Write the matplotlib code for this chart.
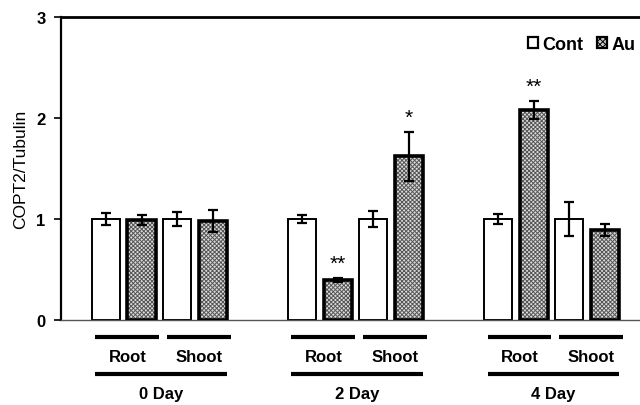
import matplotlib
matplotlib.use("Agg")
import matplotlib.pyplot as plt
from matplotlib.patches import Patch
import numpy as np

plt.rcParams['font.family'] = ['Liberation Sans', 'DejaVu Sans']
plt.rcParams['hatch.linewidth'] = 0.7

days = ["0 Day", "2 Day", "4 Day"]
tissues = ["Root", "Shoot"]
cont_vals = [1.00, 1.00, 1.00, 1.00, 1.00, 1.00]
cont_err = [0.06, 0.07, 0.04, 0.08, 0.05, 0.17]
au_vals = [0.99, 0.98, 0.40, 1.62, 2.08, 0.89]
au_err = [0.05, 0.11, 0.02, 0.24, 0.09, 0.06]
au_sig = ["", "", "**", "*", "**", ""]
yticks = [0, 1, 2, 3]

fig = plt.figure(figsize=(6.4, 4.06), dpi=100)
ax = fig.add_axes([61/640, 85/406, 579/640, 303/406])

group_step = 5.5
cont_x = []
au_x = []
for g in range(len(days)):
    for t in range(len(tissues)):
        base = g * group_step + 2 * t
        cont_x.append(base)
        au_x.append(base + 1)
cont_x = np.array(cont_x)
au_x = np.array(au_x)
w = 0.79

ax.bar(cont_x, cont_vals, w, color='white', edgecolor='black', linewidth=1.4, zorder=2)
ax.errorbar(cont_x, cont_vals, yerr=cont_err, fmt='none', ecolor='black',
            elinewidth=1.6, capsize=3.5, capthick=1.6, zorder=4)
ax.bar(au_x, au_vals, w, color='#dcdcdc', edgecolor='#555555', hatch='xxxxxxxx',
       linewidth=0, zorder=2)
ax.bar(au_x, au_vals, w, color='none', edgecolor='black', linewidth=2.6, zorder=3)
ax.errorbar(au_x, au_vals, yerr=au_err, fmt='none', ecolor='black',
            elinewidth=1.6, capsize=3.5, capthick=1.6, zorder=4)

for x, v, e, s in zip(au_x, au_vals, au_err, au_sig):
    if s:
        ax.text(x, v + e + 0.05, s, ha='center', va='bottom', fontsize=15,
                color='black')

ax.set_xlim(-1.26, 14.98)
ax.set_ylim(0, 3)
ax.set_yticks(yticks)
ax.set_yticklabels([str(t) for t in yticks], fontsize=12, fontweight='bold')
ax.tick_params(axis='y', direction='out', length=5, width=1.2, pad=6)
ax.tick_params(axis='x', bottom=False, labelbottom=False)
ax.set_ylabel("COPT2/Tubulin", fontsize=12.5, labelpad=6)

ax.spines['right'].set_visible(False)
ax.spines['top'].set_linewidth(2.0)
ax.spines['left'].set_linewidth(1.6)
ax.spines['bottom'].set_linewidth(1.0)
ax.spines['bottom'].set_color('#555555')

tr = ax.get_xaxis_transform()
half = w / 2
for g in range(len(days)):
    for t in range(len(tissues)):
        x0 = g * group_step + 2 * t - half + 0.1
        x1 = x0 + 1 + 2 * half - 0.0
        ax.plot([x0, x1], [-0.056, -0.056], color='black', lw=3, transform=tr,
                clip_on=False, solid_capstyle='butt')
        ax.text((x0 + x1) / 2, -0.122, tissues[t], transform=tr, ha='center',
                va='center', fontsize=12, fontweight='bold')
    x0 = g * group_step - half + 0.1
    x1 = g * group_step + 3 + half
    ax.plot([x0, x1], [-0.178, -0.178], color='black', lw=3, transform=tr,
            clip_on=False, solid_capstyle='butt')
    ax.text((x0 + x1) / 2, -0.244, days[g], transform=tr, ha='center',
            va='center', fontsize=12, fontweight='bold')

handles = [Patch(facecolor='white', edgecolor='black', linewidth=1.6),
           Patch(facecolor='#cccccc', edgecolor='black', linewidth=1.6, hatch='xxxxxx')]
leg = ax.legend(handles, ["Cont", "Au"], ncol=2, loc='upper right',
                bbox_to_anchor=(1.02, 0.99), frameon=False,
                handlelength=0.55, handleheight=0.55, handletextpad=0.25,
                columnspacing=0.75, prop={'weight': 'bold', 'size': 13})

fig.savefig("out.png", dpi=100)
